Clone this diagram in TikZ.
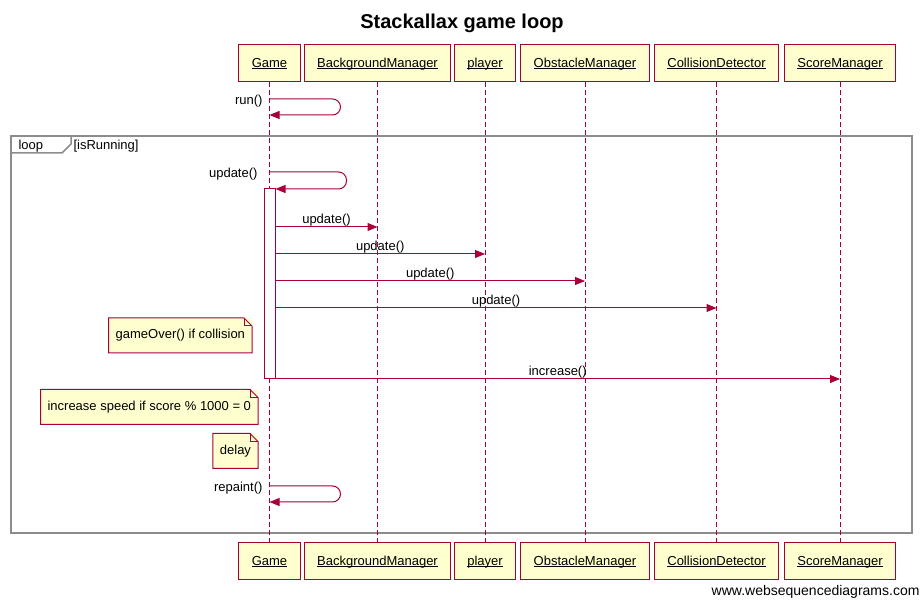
\documentclass[tikz,border=0pt]{standalone}
\usepackage{fontspec}
\setmainfont{Liberation Sans}
\usetikzlibrary{arrows.meta}
\definecolor{wsdred}{HTML}{A80036}
\definecolor{wsdfill}{HTML}{FEFECE}
\definecolor{framegray}{HTML}{8C8C8C}
\newcommand\uname[1]{\underline{\raisebox{0pt}[\height][0pt]{#1}}}
\tikzset{
  actor/.style={draw=wsdred, fill=wsdfill, minimum height=37pt, inner xsep=13pt, text=black, font=\fontsize{13}{15}\selectfont},
  lifeline/.style={wsdred, dash pattern=on 5pt off 3pt},
  msg/.style={wsdred, -{Triangle[length=10pt,width=8pt]}},
  lbl/.style={font=\fontsize{13}{15}\selectfont, text=black, inner sep=1pt},
  note/.style={fill=wsdfill, minimum height=34pt, inner xsep=6.5pt, text=black, font=\fontsize{13}{15}\selectfont},
}
\begin{document}
\begin{tikzpicture}[x=1pt, y=-1pt, line width=1pt]
            \useasboundingbox (0,0) rectangle (922,601);
            \node[font=\bfseries\fontsize{20}{24}\selectfont] (title) at (462,23) {Stackallax game loop};
            % loop frame
            \draw[framegray, line width=2pt] (11,136) rectangle (912,533);
            \draw[framegray, line width=1.5pt] (11,153) -- (62,153) -- (71,144) -- (71,136);
            \node[lbl, anchor=west] (looplbl) at (17,146) {loop};
            \node[lbl, anchor=west] (guard) at (72,146) {[isRunning]};
            % participants and lifelines
            \foreach \n/\x/\t in {game/269.5/Game, bg/377.5/BackgroundManager, pl/485/player,
                                  ob/585/ObstacleManager, cd/716.5/CollisionDetector, sc/840/ScoreManager}{
              \node[actor] (\n T) at (\x,63.5) {\uname{\t}};
              \node[actor] (\n B) at (\x,561.5) {\uname{\t}};
              \draw[lifeline] (\n T) -- (\n B);
            }
            % run()
            \coordinate (r1) at (0,99);
            \coordinate (r2) at (0,115);
            \draw[msg, rounded corners=8pt] (gameT |- r1) -- ++(71,0) |- (gameT |- r2);
            \node[lbl, anchor=east] (runlbl) at (264,101) {run()};
            % update() inside loop
            \node[draw=wsdred, fill=white, minimum width=11pt, minimum height=190pt, inner sep=0pt] (act) at (269.5,284) {};
            \coordinate (u1) at (0,172);
            \coordinate (u2) at (0,189);
            \draw[msg, rounded corners=8pt] (gameT |- u1) -- ++(77,0) |- (act.east |- u2);
            \node[lbl, anchor=east] (updlbl) at (259,174) {update()};
            \foreach \t/\y/\l in {bgT/227/update(), plT/254/update(), obT/281/update(), cdT/308/update(), scT/379/increase()}{
              \draw[msg] (act.east |- 0,\y) -- node[lbl, above, inner sep=0pt] {\l} (\t |- 0,\y);
            }
            % notes
            \node[note, anchor=east] (overnote) at (252,335.5) {gameOver() if collision};
            \node[note, anchor=east] (speednote) at (258,407) {increase speed if score \% 1000 = 0};
            \node[note, anchor=east] (delaynote) at (258,451) {delay};
            \foreach \n in {overnote, speednote, delaynote}{
              \draw[wsdred] (\n.north west) -- ([xshift=-8pt]\n.north east) -- ([yshift=-8pt]\n.north east)
                -- (\n.south east) -- (\n.south west) -- cycle;
              \draw[wsdred] ([xshift=-8pt]\n.north east) |- ([yshift=-8pt]\n.north east);
            }
            % repaint()
            \coordinate (p1) at (0,486);
            \coordinate (p2) at (0,502);
            \draw[msg, rounded corners=8pt] (gameT |- p1) -- ++(71,0) |- (gameT |- p2);
            \node[lbl, anchor=east] (replbl) at (264,488) {repaint()};
            \node[font=\fontsize{14}{16}\selectfont, anchor=east, inner sep=1pt] (site) at (921,592) {www.websequencediagrams.com};
          \end{tikzpicture}
\end{document}
